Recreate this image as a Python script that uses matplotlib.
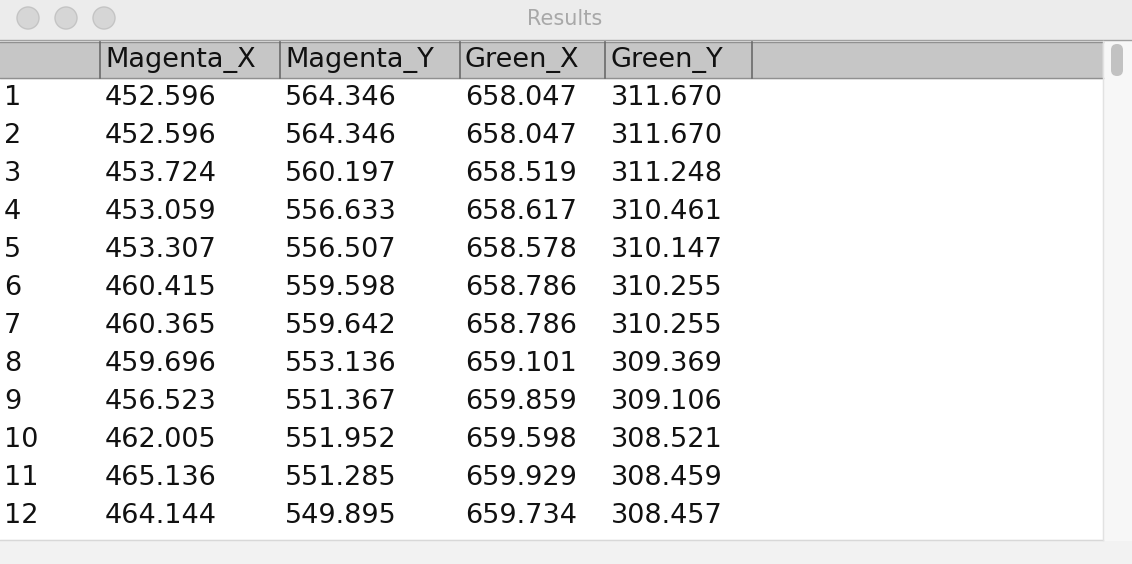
import matplotlib
matplotlib.use("Agg")
import matplotlib.pyplot as plt
from matplotlib.patches import Rectangle, Circle, FancyBboxPatch

columns = ["Magenta_X", "Magenta_Y", "Green_X", "Green_Y"]
row_ids = list(range(1, 13))
magenta_x = [452.596, 452.596, 453.724, 453.059, 453.307, 460.415, 460.365, 459.696, 456.523, 462.005, 465.136, 464.144]
magenta_y = [564.346, 564.346, 560.197, 556.633, 556.507, 559.598, 559.642, 553.136, 551.367, 551.952, 551.285, 549.895]
green_x = [658.047, 658.047, 658.519, 658.617, 658.578, 658.786, 658.786, 659.101, 659.859, 659.598, 659.929, 659.734]
green_y = [311.670, 311.670, 311.248, 310.461, 310.147, 310.255, 310.255, 309.369, 309.106, 308.521, 308.459, 308.457]

W, H = 1132, 564
fig = plt.figure(figsize=(W/100, H/100), dpi=100)
ax = fig.add_axes([0, 0, 1, 1])
ax.set_xlim(0, W); ax.set_ylim(H, 0); ax.axis("off")

ax.add_patch(Rectangle((0, 0), W, 40, color="#ececec"))
ax.plot([0, W], [40, 40], color="#a0a0a0", lw=1)
for cx in (28, 66, 104):
    ax.add_patch(Circle((cx, 18), 11, facecolor="#d6d6d6", edgecolor="#c4c4c4", lw=1))
ax.text(565, 19, "Results", ha="center", va="center", fontsize=15, color="#a8a8a8")

ax.add_patch(Rectangle((0, 41), 1103, 499, color="white"))
ax.add_patch(Rectangle((0, 540), W, 24, color="#f2f2f2"))
ax.plot([0, 1103], [540, 540], color="#d8d8d8", lw=1)

ax.add_patch(Rectangle((0, 42), 1103, 36, color="#c6c6c6"))
ax.plot([0, 1103], [78, 78], color="#909090", lw=1)
ax.plot([0, 1103], [42, 42], color="#909090", lw=1)
seps = [100, 280, 460, 605, 752]
for s in seps:
    ax.plot([s, s], [42, 78], color="#6a6a6a", lw=1.2)
col_x = [105, 285, 465, 611]
for x, c in zip(col_x, columns):
    ax.text(x, 60, c, ha="left", va="center", fontsize=19.5, color="#111111")

ax.add_patch(Rectangle((1103, 41), 29, 499, color="#f7f7f7"))
ax.plot([1103, 1103], [41, 540], color="#e2e2e2", lw=1)
ax.add_patch(FancyBboxPatch((1111, 44), 12, 32, boxstyle="round,pad=0,rounding_size=6",
                            facecolor="#c2c2c2", edgecolor="none"))

for i, rid in enumerate(row_ids):
    y = 98 + i * 38
    ax.text(4, y, str(rid), ha="left", va="center", fontsize=19.5, color="#111111")
    for x, series in zip(col_x, (magenta_x, magenta_y, green_x, green_y)):
        ax.text(x, y, f"{series[i]:.3f}", ha="left", va="center", fontsize=19.5, color="#111111")

fig.savefig("out.png", dpi=100)
